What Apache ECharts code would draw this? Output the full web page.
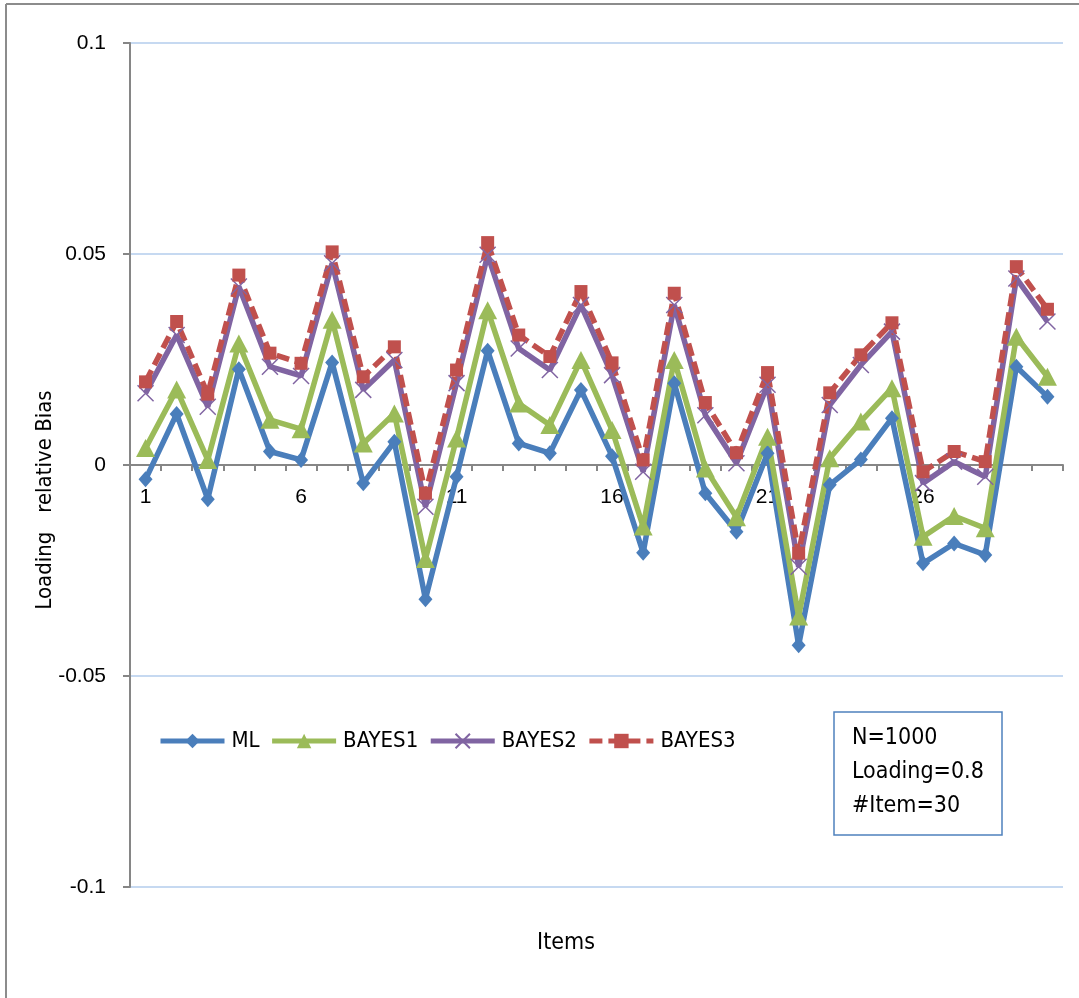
<!DOCTYPE html>
<html>
<head>
<meta charset="utf-8">
<script src="https://cdn.jsdelivr.net/npm/echarts@6/dist/echarts.min.js"></script>
<style>html,body{margin:0;padding:0;background:#fff;}#c{width:1079px;height:998px;}</style>
</head>
<body>
<div id="c"></div>
<script>
const items = ['1','2','3','4','5','6','7','8','9','10','11','12','13','14','15','16','17','18','19','20','21','22','23','24','25','26','27','28','29','30'];
const ML = [-0.0034,0.0121,-0.0081,0.0227,0.0032,0.0012,0.0243,-0.0043,0.0055,-0.0318,-0.0028,0.0271,0.0051,0.0028,0.0178,0.0021,-0.0208,0.0194,-0.0067,-0.0158,0.0028,-0.0427,-0.0047,0.0013,0.0111,-0.0233,-0.0186,-0.0213,0.0233,0.0162];
const BAYES1 = [0.0040,0.0179,0.0012,0.0288,0.0107,0.0085,0.0344,0.0051,0.0122,-0.0223,0.0063,0.0367,0.0146,0.0095,0.0249,0.0083,-0.0146,0.0249,-0.0008,-0.0124,0.0067,-0.0359,0.0016,0.0103,0.0182,-0.0170,-0.0121,-0.0150,0.0304,0.0209];
const BAYES2 = [0.0170,0.0308,0.0138,0.0423,0.0233,0.0211,0.0478,0.0178,0.0249,-0.0099,0.0194,0.0498,0.0276,0.0225,0.0379,0.0213,-0.0016,0.0379,0.0118,0.0004,0.0190,-0.0241,0.0142,0.0237,0.0316,-0.0043,0.0008,-0.0028,0.0442,0.0340];
const BAYES3 = [0.0197,0.0340,0.0168,0.0450,0.0265,0.0241,0.0505,0.0209,0.0280,-0.0067,0.0225,0.0527,0.0308,0.0257,0.0411,0.0242,0.0012,0.0407,0.0148,0.0029,0.0219,-0.0209,0.0171,0.0261,0.0337,-0.0016,0.0032,0.0008,0.0470,0.0369];
const yTicks = [-0.1,-0.05,0,0.05,0.1];
const boxLines = ['N=1000','Loading=0.8','#Item=30'];

const FONT = '"Liberation Sans Narrow","DejaVu Sans Condensed","Liberation Sans",sans-serif';
const TICKFONT = '"Liberation Sans",sans-serif';
const crossPath = 'path://M0,0L10,10M10,0L0,10';

const GRID_TOP = 43, GRID_BOTTOM = 111, H = 998;
const plotH = H - GRID_TOP - GRID_BOTTOM;
const zeroOffset = -plotH * (0 - yTicks[0]) / (yTicks[yTicks.length-1] - yTicks[0]);

const chart = echarts.init(document.getElementById('c'), null, {renderer:'canvas'});
chart.setOption({
  animation:false,
  backgroundColor:'#fff',
  grid:{left:130, right:16, top:GRID_TOP, bottom:GRID_BOTTOM},
  legend:{
    left:153, top:725, itemWidth:64, itemHeight:18, itemGap:10,
    lineStyle:{width:5},
    textStyle:{fontFamily:FONT, fontSize:22, color:'#000', padding:[0,0,0,2]},
    data:['ML','BAYES1','BAYES2','BAYES3']
  },
  xAxis:{
    type:'category', data:items, boundaryGap:true, position:'bottom', offset:zeroOffset,
    axisLine:{onZero:false, lineStyle:{color:'#868686', width:2}},
    axisTick:{show:true, interval:0, length:6, lineStyle:{color:'#868686', width:2}},
    axisLabel:{interval:4, margin:22, fontFamily:TICKFONT, fontSize:21, color:'#000'},
    splitLine:{show:false}
  },
  yAxis:{
    type:'value', min:yTicks[0], max:yTicks[yTicks.length-1], interval:0.05,
    axisLine:{show:true, lineStyle:{color:'#868686', width:2}},
    axisTick:{show:true, length:7, lineStyle:{color:'#868686', width:2}},
    axisLabel:{margin:24, fontFamily:TICKFONT, fontSize:21, color:'#000',
      formatter:function(v){return String(Math.round(v*100)/100);}},
    splitLine:{show:true, lineStyle:{color:'#c6d9f1', width:2}}
  },
  graphic:[
    {type:'line', shape:{x1:6,y1:4,x2:1079,y2:4}, style:{stroke:'#8c8c8c', lineWidth:2}, z:100},
    {type:'line', shape:{x1:6,y1:4,x2:6,y2:998}, style:{stroke:'#8c8c8c', lineWidth:2}, z:100},
    {type:'text', x:45, y:500, rotation:Math.PI/2, style:{text:'Loading   relative Bias', fontFamily:FONT, fontSize:22, fill:'#000', textAlign:'center', textVerticalAlign:'middle'}},
    {type:'text', x:566, y:943, style:{text:'Items', fontFamily:FONT, fontSize:23, fill:'#000', textAlign:'center', textVerticalAlign:'middle'}},
    {type:'rect', shape:{x:834,y:712,width:168,height:123}, style:{fill:'#fff', stroke:'#4f81bd', lineWidth:1.5}, z:50},
    {type:'text', x:852, y:738, style:{text:boxLines[0], fontFamily:FONT, fontSize:23, fill:'#000', textVerticalAlign:'middle'}, z:51},
    {type:'text', x:852, y:772, style:{text:boxLines[1], fontFamily:FONT, fontSize:23, fill:'#000', textVerticalAlign:'middle'}, z:51},
    {type:'text', x:852, y:806, style:{text:boxLines[2], fontFamily:FONT, fontSize:23, fill:'#000', textVerticalAlign:'middle'}, z:51}
  ],
  series:[
    {name:'ML', type:'line', data:ML, symbol:'diamond', symbolSize:[14,16], showAllSymbol:true,
      lineStyle:{color:'#4a7ebb', width:5.5}, itemStyle:{color:'#4a7ebb'}},
    {name:'BAYES1', type:'line', data:BAYES1, symbol:'triangle', symbolSize:[19,18], showAllSymbol:true,
      lineStyle:{color:'#9bbb59', width:5.5}, itemStyle:{color:'#9bbb59'}},
    {name:'BAYES2', type:'line', data:BAYES2, symbol:crossPath, symbolSize:16, showAllSymbol:true,
      lineStyle:{color:'#8064a2', width:5.5}, itemStyle:{color:'#8064a2', borderColor:'#8064a2', borderWidth:1.5}},
    {name:'BAYES3', type:'line', data:BAYES3, symbol:'rect', symbolSize:13, showAllSymbol:true,
      lineStyle:{color:'#c0504d', width:5.5, type:[13,6], cap:'butt'}, itemStyle:{color:'#c0504d'}}
  ]
});
</script>
</body>
</html>
